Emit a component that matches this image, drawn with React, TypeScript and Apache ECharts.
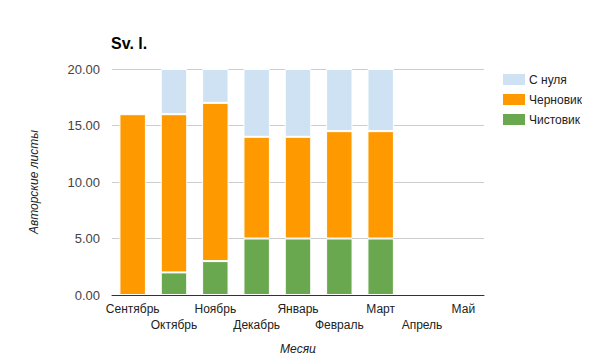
import React, { useEffect, useRef } from "react";
import * as echarts from "echarts";

const categories = ["Сентябрь", "Октябрь", "Ноябрь", "Декабрь", "Январь", "Февраль", "Март", "Апрель", "Май"];
const clean = [0, 2, 3, 5, 5, 5, 5, 0, 0];
const draft = [16, 14, 14, 9, 9, 9.5, 9.5, 0, 0];
const scratch = [0, 4, 3, 6, 6, 5.5, 5.5, 0, 0];
const yTicks = [0, 5, 10, 15, 20];

const FONT = "'Liberation Sans', Arial, sans-serif";

export default function App() {
  const ref = useRef<HTMLDivElement>(null);
  useEffect(() => {
    if (!ref.current) return;
    const chart = echarts.init(ref.current, undefined, { renderer: "svg" });
    const seg = (name: string, data: number[], color: string) => ({
      name,
      type: "bar",
      stack: "total",
      data: data.map((v) => (v === 0 ? "-" : v)),
      barWidth: "64%",
      itemStyle: { color, borderColor: "#ffffff", borderWidth: 1 },
      emphasis: { disabled: true },
    });
    chart.setOption({
      animation: false,
      textStyle: { fontFamily: FONT },
      title: {
        text: "Sv. l.",
        left: 106,
        top: 30,
        textStyle: { fontFamily: FONT, fontSize: 16, fontWeight: "bold", color: "#000" },
      },
      legend: {
        orient: "vertical",
        left: 496,
        top: 67,
        itemWidth: 24,
        itemHeight: 13,
        itemGap: 5,
        icon: "rect",
        data: ["С нуля", "Черновик", "Чистовик"],
        textStyle: { fontFamily: FONT, fontSize: 12, color: "#222", padding: [0, 0, 0, -2] },
      },
      grid: { left: 112, right: 106, top: 69, bottom: 66 },
      xAxis: {
        type: "category",
        data: categories,
        name: "Месяц",
        nameLocation: "middle",
        nameGap: 48,
        nameTextStyle: { fontFamily: FONT, fontSize: 12, fontStyle: "italic", color: "#222" },
        axisLine: { lineStyle: { color: "#333" } },
        axisTick: { show: false },
        axisLabel: {
          interval: 0,
          fontFamily: FONT,
          fontSize: 12,
          color: "#222",
          lineHeight: 16,
          margin: 6,
          formatter: (v: string, i: number) => (i % 2 === 1 ? "\n" + v : v),
        },
      },
      yAxis: {
        type: "value",
        min: yTicks[0],
        max: yTicks[yTicks.length - 1],
        interval: 5,
        name: "Авторские листы",
        nameLocation: "middle",
        nameGap: 72,
        nameTextStyle: { fontFamily: FONT, fontSize: 12, fontStyle: "italic", color: "#222" },
        axisLine: { show: false },
        axisTick: { show: false },
        splitLine: { lineStyle: { color: "#cccccc" } },
        axisLabel: {
          fontFamily: FONT,
          fontSize: 13,
          color: "#444",
          margin: 12,
          formatter: (v: number) => v.toFixed(2),
        },
      },
      series: [
        seg("Чистовик", clean, "#6aa84f"),
        seg("Черновик", draft, "#ff9900"),
        seg("С нуля", scratch, "#cfe2f3"),
      ],
    });
    return () => chart.dispose();
  }, []);
  return <div ref={ref} style={{ width: 590, height: 361, margin: -8 }} />;
}
